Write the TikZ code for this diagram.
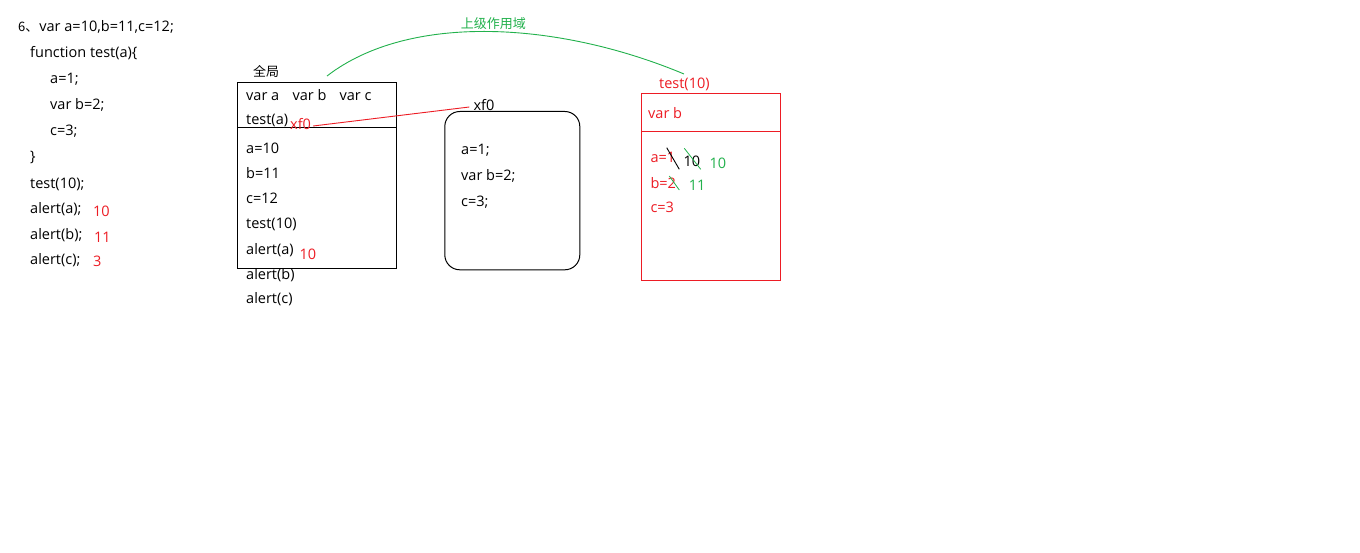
\documentclass[tikz,border=0pt]{standalone}
\usepackage{fontspec}
\setmainfont{Open Sans}
\newfontfamily\cjk{Noto Sans CJK SC}
\usetikzlibrary{calc}
\definecolor{pred}{HTML}{ED1C24}
\definecolor{pgreen}{HTML}{22B14C}
\begin{document}
\begin{tikzpicture}[x=1pt,y=-1pt,
  t/.style={anchor=base west, inner sep=0pt, font=\fontsize{14.5}{16}\selectfont},
  r/.style={t, text=pred},
  g/.style={t, text=pgreen},
  cj/.style={anchor=base west, inner sep=0pt, font=\cjk\fontsize{13}{16}\selectfont},
  frame/.style={draw, line width=1pt, inner sep=0pt, anchor=north west}]
\useasboundingbox[fill=white] (0,0) rectangle (1360,553);

% left code
\node[t] (c1) at (18,31.5) {{\cjk\fontsize{13}{14}\selectfont 6、}\hspace{1pt}var a=10,b=11,c=12;};
\node[t] (c2) at (30,57.7) {function test(a)\{};
\node[t] (c3) at (50,83.7) {a=1;};
\node[t] (c4) at (50,109.5) {var b=2;};
\node[t] (c5) at (50,135.5) {c=3;};
\node[t] (c6) at (30,161.5) {\}};
\node[t] (c7) at (30,188.5) {test(10);};
\node[t] (c8) at (30,213.7) {alert(a);};
\node[t] (c9) at (30,240) {alert(b);};
\node[t] (c10) at (30,265) {alert(c);};
\node[r] (v1) at (93,216.7) {10};
\node[r] (v2) at (94,243) {11};
\node[r] (v3) at (93,266.7) {3};

% global box
\node[cj] (glab) at (253,77) {全局};
\node[frame, minimum width=158.3pt, minimum height=186.6pt] (gbox) at (237.3,81.7) {};
\draw[line width=1pt] (237.3,127.7) -- (396.7,127.7);
\node[t] (ga) at (246,101) {var a};
\node[t] (gb) at (292.3,101) {var b};
\node[t] (gc) at (339.3,101) {var c};
\node[t] (gt) at (246,125) {test(a)};
\node[r] (xfa) at (290,130) {xf0};
\node[t] (g1) at (246,153.7) {a=10};
\node[t] (g2) at (246,178.3) {b=11};
\node[t] (g3) at (246,203.7) {c=12};
\node[t] (g4) at (246,228.7) {test(10)};
\node[t] (g5) at (246,254.3) {alert(a)};
\node[r] (g5v) at (299.3,259.3) {10};
\node[t] (g6) at (246,279.3) {alert(b)};
\node[t] (g7) at (246,303.7) {alert(c)};

% function body box
\node[t] (xfb) at (473.3,111) {xf0};
\node[frame, rounded corners=15pt, minimum width=135pt, minimum height=158.3pt] (fbox) at (444.3,111) {};
\node[t] (f1) at (461,155) {a=1;};
\node[t] (f2) at (461,181) {var b=2;};
\node[t] (f3) at (461,207) {c=3;};
\draw[pred, line width=0.9pt] ($(xfa.base east)+(2,-4)$) -- ($(xfb.base west)+(-4,-4)$);

% scope curve
\node[cj, text=pgreen] (scope) at (460.7,28.8) {上级作用域};
\coordinate (cs) at (327,76);
\coordinate (ce) at (684,74);
\draw[pgreen, line width=0.9pt] (cs) .. controls (410,12) and (560,22) .. (ce);

% test(10) box
\node[r] (tlab) at (659,88.3) {test(10)};
\node[frame, draw=pred, minimum width=139pt, minimum height=186.7pt] (tbox) at (641.3,93.3) {};
\draw[pred, line width=1pt] (641.3,131.3) -- (780.3,131.3);
\node[r] (tb) at (648,118.3) {var b};
\node[r] (ta) at (650.3,162.7) {a=1};
\node[r] (tbb) at (650.3,188.3) {b=2};
\node[r] (tc) at (650.3,212.7) {c=3};
\node[t] (k10) at (683.3,167) {10};
\node[g] (g10) at (709.3,168.3) {10};
\node[g] (g11) at (688.7,191) {11};
\coordinate (s1a) at (666.7,147.7);
\coordinate (s1b) at (679.3,169.3);
\coordinate (s2a) at (684.3,148.3);
\coordinate (s2b) at (700.7,169.3);
\coordinate (s3a) at (669.3,176);
\coordinate (s3b) at (679.3,190);
\draw[line width=0.9pt] (s1a) -- (s1b);
\draw[pgreen, line width=0.8pt] (s2a) -- (s2b);
\draw[pgreen, line width=0.8pt] (s3a) -- (s3b);
\end{tikzpicture}
\end{document}
